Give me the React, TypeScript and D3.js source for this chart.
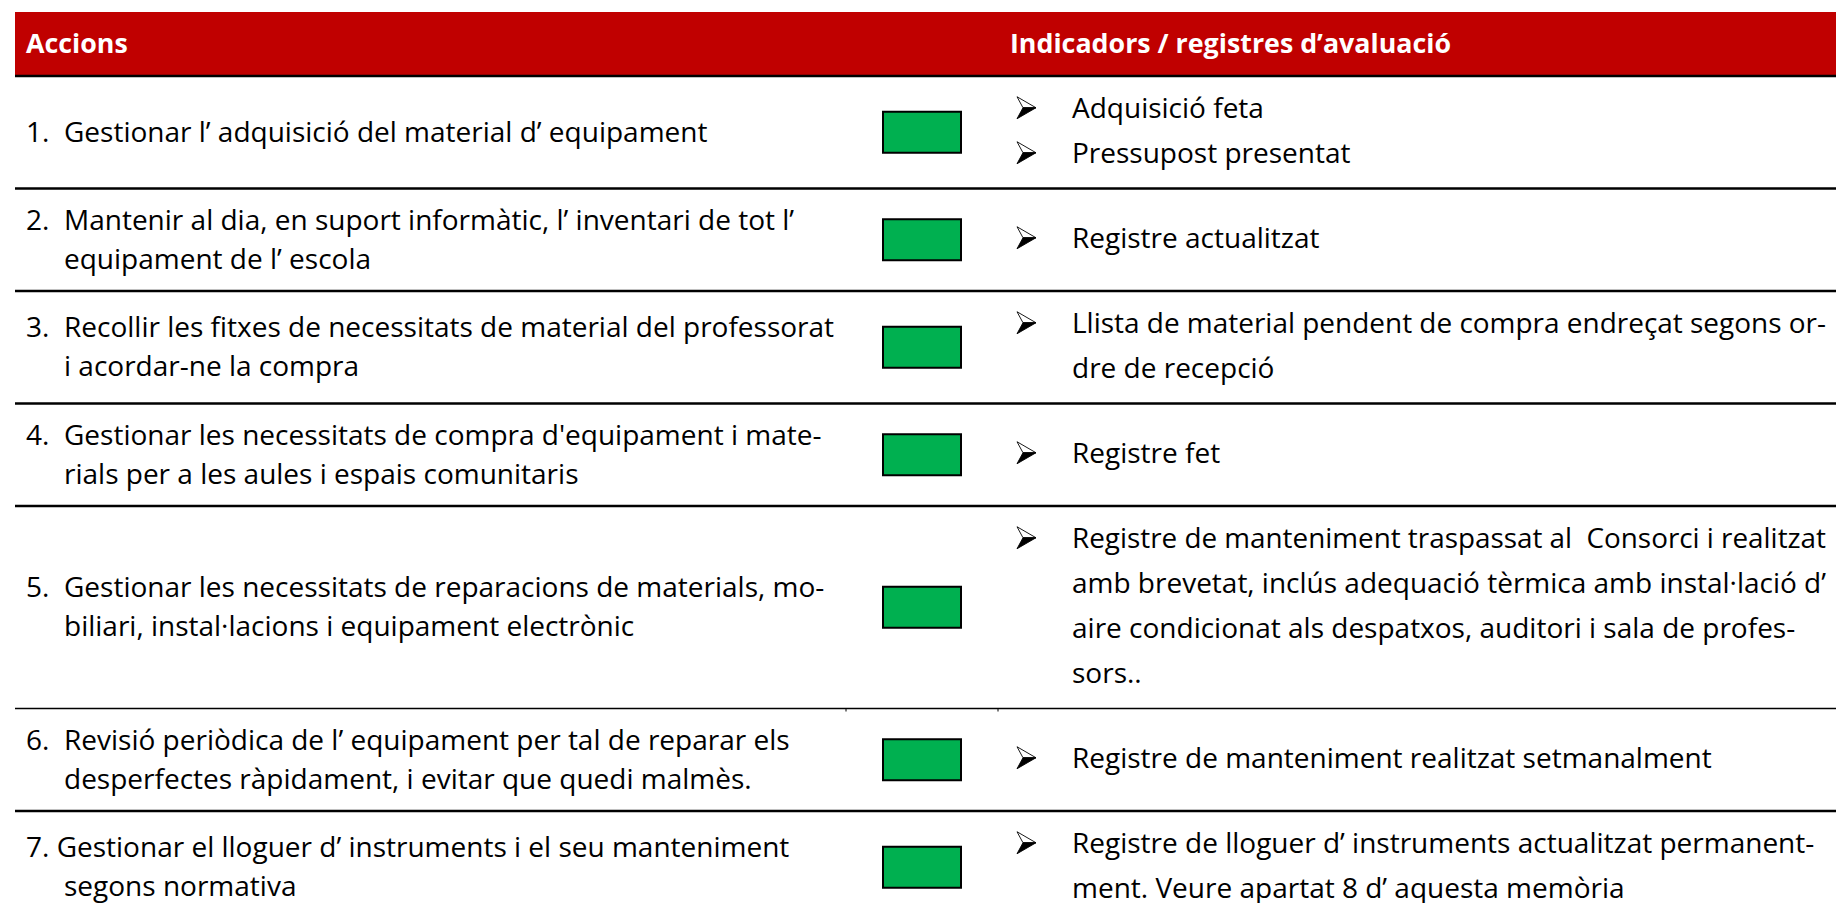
import * as d3 from "d3";
import { useEffect, useRef } from "react";

const headers = ["Accions", "Indicadors / registres d’avaluació"];

const actionNumbers = ["1.", "2.", "3.", "4.", "5.", "6.", "7."];

const actionLines = [
  ["Gestionar l’ adquisició del material d’ equipament"],
  ["Mantenir al dia, en suport informàtic, l’ inventari de tot l’", "equipament de l’ escola"],
  ["Recollir les fitxes de necessitats de material del professorat", "i acordar-ne la compra"],
  ["Gestionar les necessitats de compra d'equipament i mate-", "rials per a les aules i espais comunitaris"],
  ["Gestionar les necessitats de reparacions de materials, mo-", "biliari, instal·lacions i equipament electrònic"],
  ["Revisió periòdica de l’ equipament per tal de reparar els", "desperfectes ràpidament, i evitar que quedi malmès."],
  ["Gestionar el lloguer d’ instruments i el seu manteniment", "segons normativa"],
];

const indicators = [
  [["Adquisició feta"], ["Pressupost presentat"]],
  [["Registre actualitzat"]],
  [["Llista de material pendent de compra endreçat segons or-", "dre de recepció"]],
  [["Registre fet"]],
  [[
    "Registre de manteniment traspassat al  Consorci i realitzat",
    "amb brevetat, inclús adequació tèrmica amb instal·lació d’",
    "aire condicionat als despatxos, auditori i sala de profes-",
    "sors..",
  ]],
  [["Registre de manteniment realitzat setmanalment"]],
  [["Registre de lloguer d’ instruments actualitzat permanent-", "ment. Veure apartat 8 d’ aquesta memòria"]],
];

const status = ["done", "done", "done", "done", "done", "done", "done"];

// layout
const W = 1836;
const H = 903;
const tableLeft = 15;
const headTop = 12;
const headBottom = 76;
const leftLead = 39;
const rightLead = 45;
const numX = 26;
const textX = 64;
const boxX = 883;
const boxW = 78;
const boxH = 41;
const arrowX = 1017;
const indX = 1072;
const indMax = 1826 - indX;
const headX2 = 1010;
const FONT = "'Open Sans', Lato, sans-serif";
const FS = 28;
const thinBorderAfter = 4;

const statusColor = d3.scaleOrdinal<string, string>().domain(["done"]).range(["#00B050"]);

const rowHeights = actionLines.map((l, i) => {
  const rightCount = d3.sum(indicators[i], (b) => b.length);
  return Math.max(l.length * 40, rightCount * rightLead) + 22.5;
});
const rowTops = [headBottom, ...Array.from(d3.cumsum(rowHeights), (c) => headBottom + c)];

const Arrow = ({ x, y }: { x: number; y: number }) => {
  // wingdings-like 3D arrowhead, baseline at y
  const top = y - 21;
  const bot = y + 1;
  const mid = (top + bot) / 2;
  const tip = x + 19;
  const notch = x + 6;
  return (
    <g>
      <path d={`M${x},${top} L${tip},${mid} L${notch},${mid} Z`} fill="#fff" stroke="#000" strokeWidth={0.9} strokeLinejoin="round" />
      <path d={`M${notch},${mid} L${tip},${mid} L${x},${bot} Z`} fill="#000" stroke="#000" strokeWidth={0.9} strokeLinejoin="round" />
    </g>
  );
};

export default function App() {
  const ref = useRef<SVGSVGElement>(null);

  useEffect(() => {
    // squeeze indicator lines that would run past the table edge
    d3.select(ref.current)
      .selectAll<SVGTextElement, unknown>("text.ind")
      .each(function () {
        if (this.getComputedTextLength() > indMax) {
          d3.select(this).attr("textLength", indMax).attr("lengthAdjust", "spacingAndGlyphs");
        }
      });
  }, []);

  return (
    <svg
      ref={ref}
      width={W}
      height={H}
      style={{ position: "fixed", left: 0, top: 0, background: "#fff" }}
      fontFamily={FONT}
    >
      <rect x={tableLeft} y={headTop} width={W - tableLeft} height={headBottom - headTop} fill="#C00000" />
      <text x={numX} y={53} fill="#fff" fontWeight="bold" fontSize={26.8}>
        {headers[0]}
      </text>
      <text x={headX2} y={53} fill="#fff" fontWeight="bold" fontSize={26.8}>
        {headers[1]}
      </text>
      <line x1={tableLeft} x2={W} y1={headBottom} y2={headBottom} stroke="#000" strokeWidth={2.5} />

      {actionLines.map((lines, i) => {
        const top = rowTops[i];
        const h = rowHeights[i];
        const cy = top + h / 2;
        const leftFirst = cy + 9.5 - ((lines.length - 1) * leftLead) / 2;
        const bullets = indicators[i];
        const rightCount = d3.sum(bullets, (b) => b.length);
        const rightFirst = cy + 8 - ((rightCount - 1) * rightLead) / 2;
        let k = 0;
        const inline = i === actionLines.length - 1;
        const bottom = top + h;
        const thin = i === thinBorderAfter;
        return (
          <g key={i}>
            {inline ? null : (
              <text x={numX} y={leftFirst} fontSize={FS} fill="#000">
                {actionNumbers[i]}
              </text>
            )}
            {lines.map((ln, j) => (
              <text
                key={j}
                x={inline && j === 0 ? numX : textX}
                y={leftFirst + j * leftLead}
                fontSize={FS}
                fill="#000"
                style={{ whiteSpace: "pre" }}
              >
                {inline && j === 0 ? `${actionNumbers[i]} ${ln}` : ln}
              </text>
            ))}
            <rect
              x={boxX}
              y={cy - boxH / 2}
              width={boxW}
              height={boxH}
              fill={statusColor(status[i])}
              stroke="#000"
              strokeWidth={2}
            />
            {bullets.map((b, bi) => {
              const start = k;
              k += b.length;
              return (
                <g key={bi}>
                  <Arrow x={arrowX} y={rightFirst + start * rightLead} />
                  {b.map((ln, j) => (
                    <text
                      key={j}
                      className="ind"
                      x={indX}
                      y={rightFirst + (start + j) * rightLead}
                      fontSize={FS}
                      fill="#000"
                      style={{ whiteSpace: "pre" }}
                    >
                      {ln}
                    </text>
                  ))}
                </g>
              );
            })}
            <line
              x1={tableLeft}
              x2={W}
              y1={bottom}
              y2={bottom}
              stroke="#000"
              strokeWidth={thin ? 1.3 : 2.5}
            />
            {thin ? (
              <g stroke="#000" strokeWidth={1}>
                <line x1={846} x2={846} y1={bottom} y2={bottom + 3} />
                <line x1={998} x2={998} y1={bottom} y2={bottom + 3} />
              </g>
            ) : null}
          </g>
        );
      })}
    </svg>
  );
}
